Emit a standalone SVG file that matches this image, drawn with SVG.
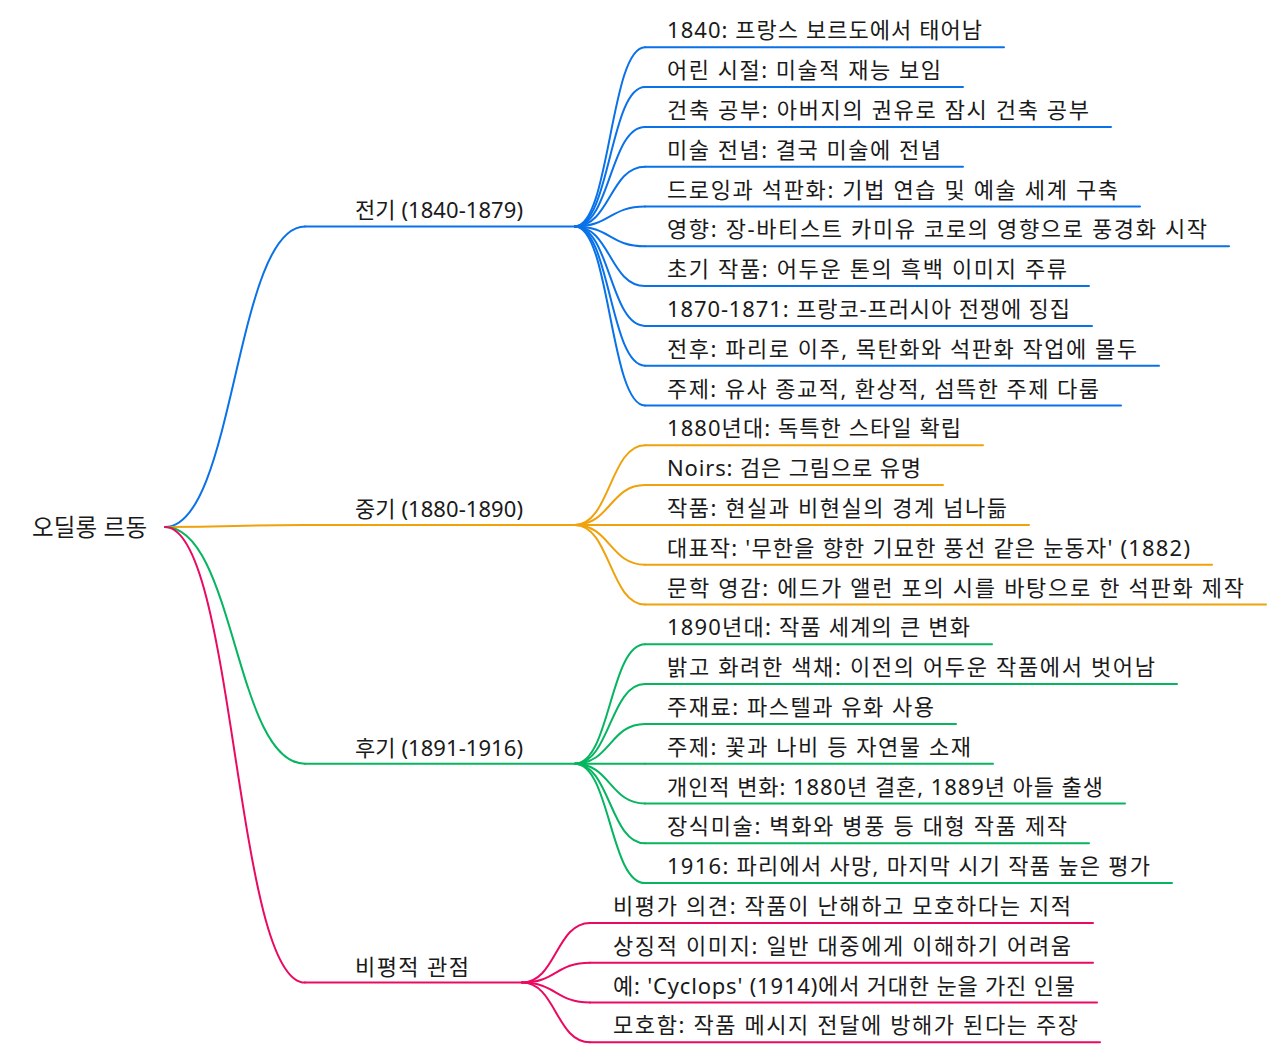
<svg xmlns="http://www.w3.org/2000/svg" width="1280" height="1056" viewBox="0 0 1280 1056">
<style>
text{font-family:"Noto Sans","Noto Sans CJK KR","Liberation Sans",sans-serif;font-size:22px;fill:#1a1a1a}
.root{font-size:23.5px}
path,line{fill:none;stroke-width:2;stroke-linecap:round}
.b{stroke:#0a72e8}.o{stroke:#f0a20c}.g{stroke:#06b560}.p{stroke:#ea0a62}
</style>
<rect width="1280" height="1056" fill="#ffffff"/>
<g id="connectors">
<path class="b" d="M165 527 C235 527 235 226.4 305 226.4"/>
<path class="o" d="M165 527 C235 527 235 524.9 305 524.9"/>
<path class="g" d="M165 527 C235 527 235 763.7 305 763.7"/>
<path class="p" d="M165 527 C235 527 235 982.6 305 982.6"/>
<path class="b" d="M575 226.4 C610 226.4 610 47.3 645 47.3"/>
<path class="b" d="M575 226.4 C610 226.4 610 87.1 645 87.1"/>
<path class="b" d="M575 226.4 C610 226.4 610 126.9 645 126.9"/>
<path class="b" d="M575 226.4 C610 226.4 610 166.7 645 166.7"/>
<path class="b" d="M575 226.4 C610 226.4 610 206.5 645 206.5"/>
<path class="b" d="M575 226.4 C610 226.4 610 246.3 645 246.3"/>
<path class="b" d="M575 226.4 C610 226.4 610 286.1 645 286.1"/>
<path class="b" d="M575 226.4 C610 226.4 610 325.9 645 325.9"/>
<path class="b" d="M575 226.4 C610 226.4 610 365.7 645 365.7"/>
<path class="b" d="M575 226.4 C610 226.4 610 405.5 645 405.5"/>
<path class="o" d="M575 524.9 C610 524.9 610 445.3 645 445.3"/>
<path class="o" d="M575 524.9 C610 524.9 610 485.1 645 485.1"/>
<path class="o" d="M575 524.9 C610 524.9 610 524.9 645 524.9"/>
<path class="o" d="M575 524.9 C610 524.9 610 564.7 645 564.7"/>
<path class="o" d="M575 524.9 C610 524.9 610 604.5 645 604.5"/>
<path class="g" d="M575 763.7 C610 763.7 610 644.3 645 644.3"/>
<path class="g" d="M575 763.7 C610 763.7 610 684.1 645 684.1"/>
<path class="g" d="M575 763.7 C610 763.7 610 723.9 645 723.9"/>
<path class="g" d="M575 763.7 C610 763.7 610 763.7 645 763.7"/>
<path class="g" d="M575 763.7 C610 763.7 610 803.5 645 803.5"/>
<path class="g" d="M575 763.7 C610 763.7 610 843.3 645 843.3"/>
<path class="g" d="M575 763.7 C610 763.7 610 883.1 645 883.1"/>
<path class="p" d="M522 982.6 C556 982.6 556 922.9 590 922.9"/>
<path class="p" d="M522 982.6 C556 982.6 556 962.7 590 962.7"/>
<path class="p" d="M522 982.6 C556 982.6 556 1002.5 590 1002.5"/>
<path class="p" d="M522 982.6 C556 982.6 556 1042.3 590 1042.3"/>
</g>
<g id="root"><text class="root" x="32" y="536" textLength="115">오딜롱 르동</text></g>
<g id="n-early"><line class="b" x1="305" y1="226.4" x2="575" y2="226.4"/><text x="355" y="218.4" textLength="168">전기 (1840-1879)</text></g>
<g id="n-middle"><line class="o" x1="305" y1="524.9" x2="575" y2="524.9"/><text x="355" y="516.9" textLength="168">중기 (1880-1890)</text></g>
<g id="n-late"><line class="g" x1="305" y1="763.7" x2="575" y2="763.7"/><text x="355" y="755.7" textLength="168">후기 (1891-1916)</text></g>
<g id="n-critic"><line class="p" x1="305" y1="982.6" x2="522" y2="982.6"/><text x="355" y="974.6" textLength="114">비평적 관점</text></g>
<g id="l1"><line class="b" x1="645" y1="47.3" x2="1004" y2="47.3"/><text x="667" y="38.3" textLength="315">1840: 프랑스 보르도에서 태어남</text></g>
<g id="l2"><line class="b" x1="645" y1="87.1" x2="963" y2="87.1"/><text x="667" y="78.1" textLength="274">어린 시절: 미술적 재능 보임</text></g>
<g id="l3"><line class="b" x1="645" y1="126.9" x2="1111" y2="126.9"/><text x="667" y="117.9" textLength="422">건축 공부: 아버지의 권유로 잠시 건축 공부</text></g>
<g id="l4"><line class="b" x1="645" y1="166.7" x2="963" y2="166.7"/><text x="667" y="157.7" textLength="274">미술 전념: 결국 미술에 전념</text></g>
<g id="l5"><line class="b" x1="645" y1="206.5" x2="1140" y2="206.5"/><text x="667" y="197.5" textLength="451">드로잉과 석판화: 기법 연습 및 예술 세계 구축</text></g>
<g id="l6"><line class="b" x1="645" y1="246.3" x2="1229" y2="246.3"/><text x="667" y="237.3" textLength="540">영향: 장-바티스트 카미유 코로의 영향으로 풍경화 시작</text></g>
<g id="l7"><line class="b" x1="645" y1="286.1" x2="1089" y2="286.1"/><text x="667" y="277.1" textLength="400">초기 작품: 어두운 톤의 흑백 이미지 주류</text></g>
<g id="l8"><line class="b" x1="645" y1="325.9" x2="1092" y2="325.9"/><text x="667" y="316.9" textLength="403">1870-1871: 프랑코-프러시아 전쟁에 징집</text></g>
<g id="l9"><line class="b" x1="645" y1="365.7" x2="1159" y2="365.7"/><text x="667" y="356.7" textLength="470">전후: 파리로 이주, 목탄화와 석판화 작업에 몰두</text></g>
<g id="l10"><line class="b" x1="645" y1="405.5" x2="1121" y2="405.5"/><text x="667" y="396.5" textLength="432">주제: 유사 종교적, 환상적, 섬뜩한 주제 다룸</text></g>
<g id="l11"><line class="o" x1="645" y1="445.3" x2="983" y2="445.3"/><text x="667" y="436.3" textLength="294">1880년대: 독특한 스타일 확립</text></g>
<g id="l12"><line class="o" x1="645" y1="485.1" x2="943" y2="485.1"/><text x="667" y="476.1" textLength="254">Noirs: 검은 그림으로 유명</text></g>
<g id="l13"><line class="o" x1="645" y1="524.9" x2="1029" y2="524.9"/><text x="667" y="515.9" textLength="340">작품: 현실과 비현실의 경계 넘나듦</text></g>
<g id="l14"><line class="o" x1="645" y1="564.7" x2="1212" y2="564.7"/><text x="667" y="555.7" textLength="523">대표작: '무한을 향한 기묘한 풍선 같은 눈동자' (1882)</text></g>
<g id="l15"><line class="o" x1="645" y1="604.5" x2="1266" y2="604.5"/><text x="667" y="595.5" textLength="577">문학 영감: 에드가 앨런 포의 시를 바탕으로 한 석판화 제작</text></g>
<g id="l16"><line class="g" x1="645" y1="644.3" x2="992" y2="644.3"/><text x="667" y="635.3" textLength="303">1890년대: 작품 세계의 큰 변화</text></g>
<g id="l17"><line class="g" x1="645" y1="684.1" x2="1177" y2="684.1"/><text x="667" y="675.1" textLength="488">밝고 화려한 색채: 이전의 어두운 작품에서 벗어남</text></g>
<g id="l18"><line class="g" x1="645" y1="723.9" x2="956" y2="723.9"/><text x="667" y="714.9" textLength="267">주재료: 파스텔과 유화 사용</text></g>
<g id="l19"><line class="g" x1="645" y1="763.7" x2="993" y2="763.7"/><text x="667" y="754.7" textLength="304">주제: 꽃과 나비 등 자연물 소재</text></g>
<g id="l20"><line class="g" x1="645" y1="803.5" x2="1125" y2="803.5"/><text x="667" y="794.5" textLength="436">개인적 변화: 1880년 결혼, 1889년 아들 출생</text></g>
<g id="l21"><line class="g" x1="645" y1="843.3" x2="1089" y2="843.3"/><text x="667" y="834.3" textLength="400">장식미술: 벽화와 병풍 등 대형 작품 제작</text></g>
<g id="l22"><line class="g" x1="645" y1="883.1" x2="1172" y2="883.1"/><text x="667" y="874.1" textLength="483">1916: 파리에서 사망, 마지막 시기 작품 높은 평가</text></g>
<g id="l23"><line class="p" x1="590" y1="922.9" x2="1093" y2="922.9"/><text x="613" y="913.9" textLength="458">비평가 의견: 작품이 난해하고 모호하다는 지적</text></g>
<g id="l24"><line class="p" x1="590" y1="962.7" x2="1093" y2="962.7"/><text x="613" y="953.7" textLength="458">상징적 이미지: 일반 대중에게 이해하기 어려움</text></g>
<g id="l25"><line class="p" x1="590" y1="1002.5" x2="1097" y2="1002.5"/><text x="613" y="993.5" textLength="462">예: 'Cyclops' (1914)에서 거대한 눈을 가진 인물</text></g>
<g id="l26"><line class="p" x1="590" y1="1042.3" x2="1100" y2="1042.3"/><text x="613" y="1033.3" textLength="465">모호함: 작품 메시지 전달에 방해가 된다는 주장</text></g>
</svg>
